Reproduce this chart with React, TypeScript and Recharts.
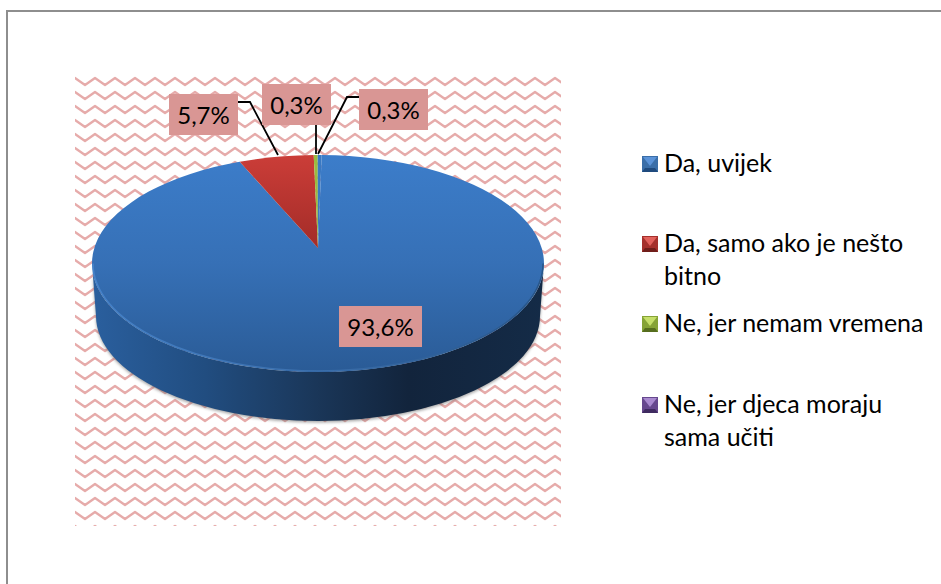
import React from 'react';
import { PieChart, Pie, Legend } from 'recharts';

const categories = ['Da, uvijek', 'Da, samo ako je nešto bitno', 'Ne, jer nemam vremena', 'Ne, jer djeca moraju sama učiti'];
const shares = [93.6, 5.7, 0.3, 0.3];

const data = categories.map((name, i) => ({ name, value: shares[i] }));

const FONT = 'Lato, "Open Sans", sans-serif';
const CX = 318;
const CY = 263.5;
const RX = 226;
const RY = 108.5;
const APEX_Y = 248;
const SKEW = 0.07;
const LABEL_BG = '#d99694';

// the last slice shows no purple in the reference, only the legend key does
const TOP_FILLS = ['url(#topBlue)', 'url(#topRed)', '#9bbb3f', '#3a79c3'];
const LEGEND_COLORS = [
  { light: '#5b93d8', mid: '#3a6ea8', dark: '#1f4a7d' },
  { light: '#e2615c', mid: '#a5302c', dark: '#6f1d1a' },
  { light: '#c6df6a', mid: '#86a336', dark: '#566d1e' },
  { light: '#a98ad0', mid: '#66488e', dark: '#3f2a60' },
];

// label boxes and the bend of their leader lines, in page pixels
const LABEL_BOXES = [
  { x: 339, y: 306, w: 83, h: 41, line: '' },
  { x: 169, y: 94, w: 69, h: 41, line: '238,102 250,102 278,155' },
  { x: 262, y: 84, w: 69, h: 41, line: '316,125 316,154' },
  { x: 359, y: 89, w: 69, h: 41, line: '359,97 347,97 318,154' },
];

const LEGEND_ROWS = [
  { top: 146, width: 298 },
  { top: 226, width: 280 },
  { top: 306, width: 298 },
  { top: 387, width: 270 },
];

const WALL = `M${CX - RX},${CY} A${RX},${RY} 0 0 0 ${CX + RX},${CY} L${CX + 222},316 A222,105 0 0 1 ${CX - 222},316 Z`;

// point on the tilted rim, perspective pulls the centre towards the back
function rim(angle: number) {
  const t = ((90 - angle) * Math.PI) / 180;
  const x = Math.sin(t);
  const y = Math.cos(t);
  const d = 1 + SKEW * y;
  return {
    x: CX + (RX * x * Math.sqrt(1 - SKEW * SKEW)) / d,
    y: CY - (RY * (y + SKEW)) / d,
  };
}

function Slice(props: any) {
  const { startAngle, endAngle, index } = props;
  const a = rim(startAngle);
  const b = rim(endAngle);
  const large = Math.abs(endAngle - startAngle) > 180 ? 1 : 0;
  const d = `M${CX},${APEX_Y} L${a.x},${a.y} A${RX},${RY} 0 ${large} 1 ${b.x},${b.y} Z`;
  return (
    <g>
      {index === 0 && (
        <>
          <defs>
            <linearGradient id="topBlue" x1="0" y1="0" x2="0" y2="1">
              <stop offset="0%" stopColor="#3c7dca" />
              <stop offset="50%" stopColor="#3670b6" />
              <stop offset="100%" stopColor="#2a5b96" />
            </linearGradient>
            <linearGradient id="topRed" x1="0" y1="0" x2="0" y2="1">
              <stop offset="0%" stopColor="#cb3d38" />
              <stop offset="100%" stopColor="#a32c28" />
            </linearGradient>
            <linearGradient id="wall" x1="0" y1="0" x2="1" y2="0">
              <stop offset="0%" stopColor="#2a5f9e" />
              <stop offset="25%" stopColor="#214d80" />
              <stop offset="50%" stopColor="#1a3658" />
              <stop offset="70%" stopColor="#12243c" />
              <stop offset="100%" stopColor="#142b47" />
            </linearGradient>
            <linearGradient id="rimLight" x1="0" y1="0" x2="1" y2="0">
              <stop offset="0%" stopColor="#4a88d0" />
              <stop offset="50%" stopColor="#3f74b2" />
              <stop offset="100%" stopColor="#25507f" />
            </linearGradient>
            <filter id="soft" x="-5%" y="-5%" width="110%" height="115%">
              <feGaussianBlur stdDeviation="1.5" />
            </filter>
          </defs>
          <path d={WALL} transform="translate(0,1.5)" fill="#666" opacity={0.6} filter="url(#soft)" />
          <path d={WALL} fill="url(#wall)" />
        </>
      )}
      <path d={d} fill={TOP_FILLS[index]} />
      {index === 0 && (
        <path
          d={`M${CX - RX + 1},${CY} A${RX - 1},${RY - 1} 0 0 0 ${CX + RX - 1},${CY}`}
          fill="none"
          stroke="url(#rimLight)"
          strokeWidth={1.5}
          opacity={0.8}
        />
      )}
    </g>
  );
}

function ValueLabel(props: any) {
  const { index, value } = props;
  const box = LABEL_BOXES[index];
  return (
    <g>
      {box.line && <polyline points={box.line} fill="none" stroke="#000" strokeWidth={1.8} />}
      <rect x={box.x} y={box.y} width={box.w} height={box.h} fill={LABEL_BG} />
      <text
        x={box.x + box.w / 2}
        y={box.y + 30}
        textAnchor="middle"
        fontFamily={FONT}
        fontSize={24}
        fill="#000"
      >
        {value.toFixed(1).replace('.', ',')}%
      </text>
    </g>
  );
}

function LegendMark({ c }: { c: (typeof LEGEND_COLORS)[number] }) {
  return (
    <svg width={16} height={16} style={{ position: 'absolute', left: 0, top: 10 }}>
      <rect width={16} height={16} fill={c.mid} />
      <polygon points="0,16 16,16 13,12 3,12" fill={c.dark} />
      <polygon points="1,1 15,1 8,10" fill={c.light} />
    </svg>
  );
}

function LegendList({ payload }: any) {
  return (
    <div style={{ position: 'relative', width: 299, height: 584 }}>
      {(payload || []).map((item: any, i: number) => (
        <div
          key={item.value}
          style={{
            position: 'absolute',
            left: 0,
            top: LEGEND_ROWS[i].top,
            width: LEGEND_ROWS[i].width,
            paddingLeft: 22,
            boxSizing: 'border-box',
            fontFamily: FONT,
            fontSize: 25,
            lineHeight: '33px',
            color: '#000',
          }}
        >
          <LegendMark c={LEGEND_COLORS[i]} />
          {item.value}
        </div>
      ))}
    </div>
  );
}

function Waves() {
  return (
    <svg width={941} height={584} style={{ position: 'absolute', left: 0, top: 0 }}>
      <defs>
        <pattern id="waves" x={75} y={75} width={20} height={14} patternUnits="userSpaceOnUse">
          <path
            d="M-10,10 L0,3 L10,10 L20,3 L30,10"
            fill="none"
            stroke="#e6abaa"
            strokeWidth={2.3}
            strokeLinejoin="round"
          />
          <path d="M-10,-4 L0,-11 L10,-4 L20,-11 L30,-4" fill="none" stroke="#e6abaa" strokeWidth={2.3} />
        </pattern>
      </defs>
      <rect x={75} y={75} width={486} height={451} fill="url(#waves)" />
    </svg>
  );
}

export default function App() {
  return (
    <div style={{ position: 'absolute', left: 0, top: 0, width: 941, height: 584, background: '#fff', overflow: 'hidden' }}>
      <div style={{ position: 'absolute', left: 6, top: 10, width: 935, height: 2, background: '#8e8e8e' }} />
      <div style={{ position: 'absolute', left: 6, top: 10, width: 2, height: 574, background: '#8e8e8e' }} />
      <Waves />
      <div style={{ position: 'absolute', left: 0, top: 0 }}>
        <PieChart width={941} height={584} margin={{ top: 0, right: 0, bottom: 0, left: 0 }}>
          <Pie
            data={data}
            dataKey="value"
            nameKey="name"
            cx={CX}
            cy={CY}
            innerRadius={0}
            outerRadius={RX}
            startAngle={89}
            endAngle={-271}
            stroke="none"
            shape={Slice}
            label={ValueLabel}
            labelLine={false}
            isAnimationActive={false}
          />
          <Legend
            content={LegendList}
            itemSorter={null}
            wrapperStyle={{ position: 'absolute', left: 642, top: 0, width: 299, height: 584 }}
          />
        </PieChart>
      </div>
    </div>
  );
}
